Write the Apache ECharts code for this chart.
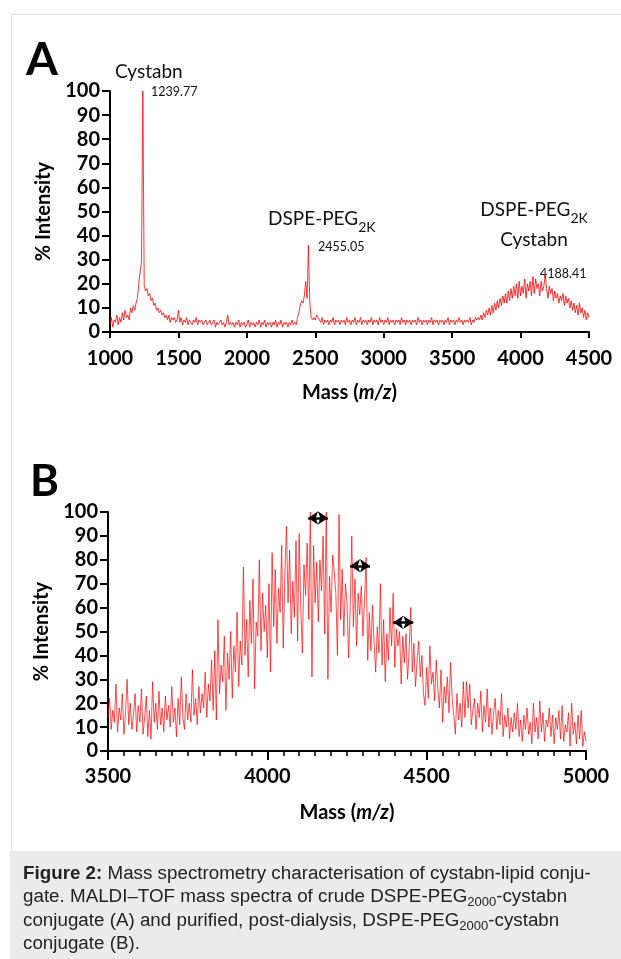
<!DOCTYPE html>
<html><head><meta charset="utf-8">
<script src="https://cdn.jsdelivr.net/npm/echarts/dist/echarts.min.js"></script>
<style>html,body{margin:0;padding:0;background:#fff}#c{width:621px;height:959px}</style>
</head><body><div id="c"></div>
<script>
// ---------- Panel A: crude conjugate, mass 1000-4500 sampled every 10 Da ----------
const massStartA = 1000, massStepA = 10;
const intensityA = [
3,6,2,5,4,7,3,6,4,8,
5,9,6,7,5,10,8,11,9,12,
14,20,25,29,100,19,17,18,15,16,
13,14,11,12,9,10,8,9,7,8,
6,7,5,7,4,6,5,6,4,5,
9,4,6,3,5,4,6,3,5,4,
3,5,4,6,3,5,4,5,3,4,
5,3,4,5,3,4,5,2,4,3,
4,5,3,4,2,4,7,3,4,3,
4,2,4,3,5,2,4,3,4,2,
3,5,2,4,3,4,2,4,3,5,
2,4,3,5,2,4,3,4,2,4,
3,5,2,4,3,5,2,4,3,4,
2,4,3,5,3,4,3,6,8,11,
13,12,15,21,14,36,12,6,5,6,
5,7,6,5,4,6,3,5,4,5,
3,5,4,6,3,5,4,5,3,5,
4,5,3,6,4,5,3,5,4,6,
3,5,4,6,3,5,4,5,3,5,
4,6,3,5,4,5,3,6,4,5,
3,5,4,6,3,5,4,5,3,5,
4,5,3,6,4,5,3,5,4,5,
3,5,4,5,3,6,4,5,3,5,
4,5,3,5,4,6,3,5,4,5,
3,5,4,5,3,5,4,6,3,5,
4,5,3,5,4,6,4,5,3,5,
4,5,4,6,3,5,4,6,5,6,
5,7,5,8,6,9,7,10,7,11,
8,12,9,13,10,14,11,15,12,16,
12,17,13,18,14,19,15,20,14,21,
15,19,16,22,14,20,17,21,15,23,
16,22,18,20,15,21,17,19,24,18,
14,19,16,18,13,17,14,16,12,15,
13,16,11,15,12,14,10,13,9,12,
8,11,7,12,8,10,6,9,5,8,
6];
const xTicksA = {min: 1000, max: 4500, interval: 500};
const peakLabelsA = ['1239.77', '2455.05', '4188.41'];

// ---------- Panel B: purified conjugate, mass 3500-5000 sampled every 5 Da ----------
const massStartB = 3500, massStepB = 5;
const intensityB = [
14,22,9,17,12,28,8,18,13,24,
7,16,30,11,20,9,15,24,8,19,
12,26,7,14,23,6,17,5,29,12,
20,9,25,11,18,8,23,13,19,10,
27,12,18,6,22,11,31,14,9,24,
13,20,12,34,15,22,11,27,16,24,
18,33,14,28,21,38,17,42,13,55,
24,36,29,48,17,41,30,50,22,44,
33,58,27,46,36,77,40,55,31,63,
45,72,26,54,48,80,42,66,50,61,
39,70,33,83,52,76,45,68,58,86,
43,74,94,62,84,49,71,56,88,46,
91,60,41,78,65,87,55,100,31,86,
62,79,54,80,67,90,49,100,30,73,
58,82,75,66,40,99,55,76,48,70,
62,39,59,90,52,72,44,66,57,69,
48,63,81,38,58,42,61,45,33,52,
41,70,36,55,29,49,38,60,44,66,
35,51,44,50,28,48,37,49,30,42,
60,33,45,27,38,46,31,40,24,19,
35,22,44,28,33,21,38,26,18,34,
12,27,20,31,16,37,22,15,7,24,
13,20,10,29,14,29,18,28,11,17,
22,9,20,14,25,8,19,12,26,10,
18,7,16,22,9,17,11,24,6,15,
10,18,5,14,8,16,9,20,6,13,
4,15,9,18,7,12,3,20,8,14,
5,21,8,16,4,13,10,18,6,15,
3,14,9,17,5,19,4,11,8,16,
2,20,7,12,3,15,5,17,2,8,
4];
const xTicksB = {min: 3500, max: 5000, interval: 500};
// PEG repeat-unit spacing arrows: [from mass, to mass, intensity]
const arrowsB = [[4128, 4190, 97.5], [4260, 4322, 77.5], [4395, 4458, 53.8]];
const yTicks = {min: 0, max: 100, interval: 10};

const seriesA = intensityA.map((v, i) => [massStartA + i * massStepA, v]);
const seriesB = intensityB.map((v, i) => [massStartB + i * massStepB, v]);

const F = 'Lato, "Open Sans", sans-serif';
const tickLabel = {color: '#000', fontFamily: F, fontWeight: 'bold', fontSize: 20, formatter: v => String(v)};
const axisNameStyle = {color: '#000', fontFamily: F, fontWeight: 'bold', fontSize: 20,
  rich: {b: {color: '#000', fontFamily: F, fontWeight: 'bold', fontSize: 20},
         i: {color: '#000', fontFamily: F, fontWeight: 'bold', fontStyle: 'italic', fontSize: 20}}};
const axLine = {show: true, lineStyle: {color: '#000', width: 2}};

function xAx(grid, t, minor) {
  return {type: 'value', gridIndex: grid, min: t.min, max: t.max, interval: t.interval,
    axisLine: axLine, splitLine: {show: false},
    axisTick: {show: true, length: minor ? 9 : 6, lineStyle: {color: '#000', width: 2}},
    minorTick: {show: !!minor, splitNumber: 10, length: 5, lineStyle: {color: '#000', width: 1.5}},
    axisLabel: Object.assign({margin: minor ? 16 : 17}, tickLabel),
    name: '{b|Mass (}{i|m/z}{b|)}', nameLocation: 'middle', nameGap: minor ? 52 : 51, nameTextStyle: axisNameStyle};
}
function yAx(grid) {
  return {type: 'value', gridIndex: grid, min: yTicks.min, max: yTicks.max, interval: yTicks.interval,
    axisLine: axLine, splitLine: {show: false},
    axisTick: {show: true, length: 8, lineStyle: {color: '#000', width: 2}},
    axisLabel: Object.assign({margin: 10}, tickLabel),
    name: '% Intensity', nameLocation: 'middle', nameGap: 56, nameRotate: 90, nameTextStyle: axisNameStyle};
}

const capFont = '"Liberation Sans", Arial, sans-serif';
const lab = (x, y, text, size, extra) => ({type: 'text', x: x, y: y, silent: true,
  style: Object.assign({text: text, fill: '#111', font: size + 'px ' + F, verticalAlign: 'middle'}, extra || {})});
const pegRich = {n: {fontFamily: F, fontSize: 19, lineHeight: 30, fill: '#111'},
                 s: {fontFamily: F, fontSize: 14, lineHeight: 12, verticalAlign: 'bottom', fill: '#111'}};

const chart = echarts.init(document.getElementById('c'), null, {renderer: 'canvas'});
chart.setOption({
  animation: false,
  backgroundColor: '#fff',
  grid: [
    {left: 110, top: 91, width: 479, height: 241},
    {left: 108, top: 512, width: 478, height: 239}
  ],
  xAxis: [xAx(0, xTicksA, false), xAx(1, xTicksB, true)],
  yAxis: [yAx(0), yAx(1)],
  series: [
    {type: 'line', xAxisIndex: 0, yAxisIndex: 0, data: seriesA, showSymbol: false, symbol: 'none',
     lineStyle: {color: '#ff0000', width: 0.8}, silent: true},
    {type: 'line', xAxisIndex: 1, yAxisIndex: 1, data: seriesB, showSymbol: false, symbol: 'none',
     lineStyle: {color: '#ff0000', width: 0.7}, silent: true,
     markLine: {silent: true, symbol: ['arrow', 'arrow'], symbolSize: [10, 10], animation: false,
       lineStyle: {color: '#000', width: 2.5, type: 'solid'}, label: {show: false},
       data: arrowsB.map(a => [{coord: [a[0], a[2]]}, {coord: [a[1], a[2]]}])}}
  ],
  graphic: [
    {type: 'line', silent: true, shape: {x1: 11, y1: 14.5, x2: 621, y2: 14.5}, style: {stroke: '#dddddd', lineWidth: 1}},
    {type: 'line', silent: true, shape: {x1: 11.5, y1: 14, x2: 11.5, y2: 851}, style: {stroke: '#dddddd', lineWidth: 1}},
    {type: 'rect', silent: true, shape: {x: 10, y: 851, width: 611, height: 108}, style: {fill: '#ebebeb'}},
    {type: 'text', silent: true, x: 23, y: 862, style: {
      text: '{b|Figure 2:} Mass spectrometry characterisation of cystabn-lipid conju-\n' +
            'gate. MALDI\u2013TOF mass spectra of crude DSPE-PEG{s|2000}-cystabn\n' +
            'conjugate (A) and purified, post-dialysis, DSPE-PEG{s|2000}-cystabn\n' +
            'conjugate (B).',
      font: '18.8px ' + capFont, fill: '#222', lineHeight: 23.5,
      rich: {b: {fontFamily: capFont, fontWeight: 'bold', fontSize: 18.8, lineHeight: 23.5, fill: '#222'},
             s: {fontFamily: capFont, fontSize: 13, lineHeight: 10, verticalAlign: 'bottom', fill: '#222'}}}},
    lab(26, 60, 'A', 46, {font: 'bold 46px ' + F, fill: '#000'}),
    lab(30, 482, 'B', 44, {font: 'bold 44px ' + F, fill: '#000'}),
    lab(115, 72, 'Cystabn', 19),
    lab(151, 92, peakLabelsA[0], 12.5),
    {type: 'text', silent: true, x: 268, y: 219, style: {text: '{n|DSPE-PEG}{s|2K}', verticalAlign: 'middle', rich: pegRich}},
    lab(318, 247, peakLabelsA[1], 12.5),
    {type: 'text', silent: true, x: 534, y: 225, style: {text: '{n|DSPE-PEG}{s|2K}\n{n|Cystabn}', align: 'center', verticalAlign: 'middle', rich: pegRich}},
    lab(540, 274, peakLabelsA[2], 12.5)
  ]
});
</script></body></html>
